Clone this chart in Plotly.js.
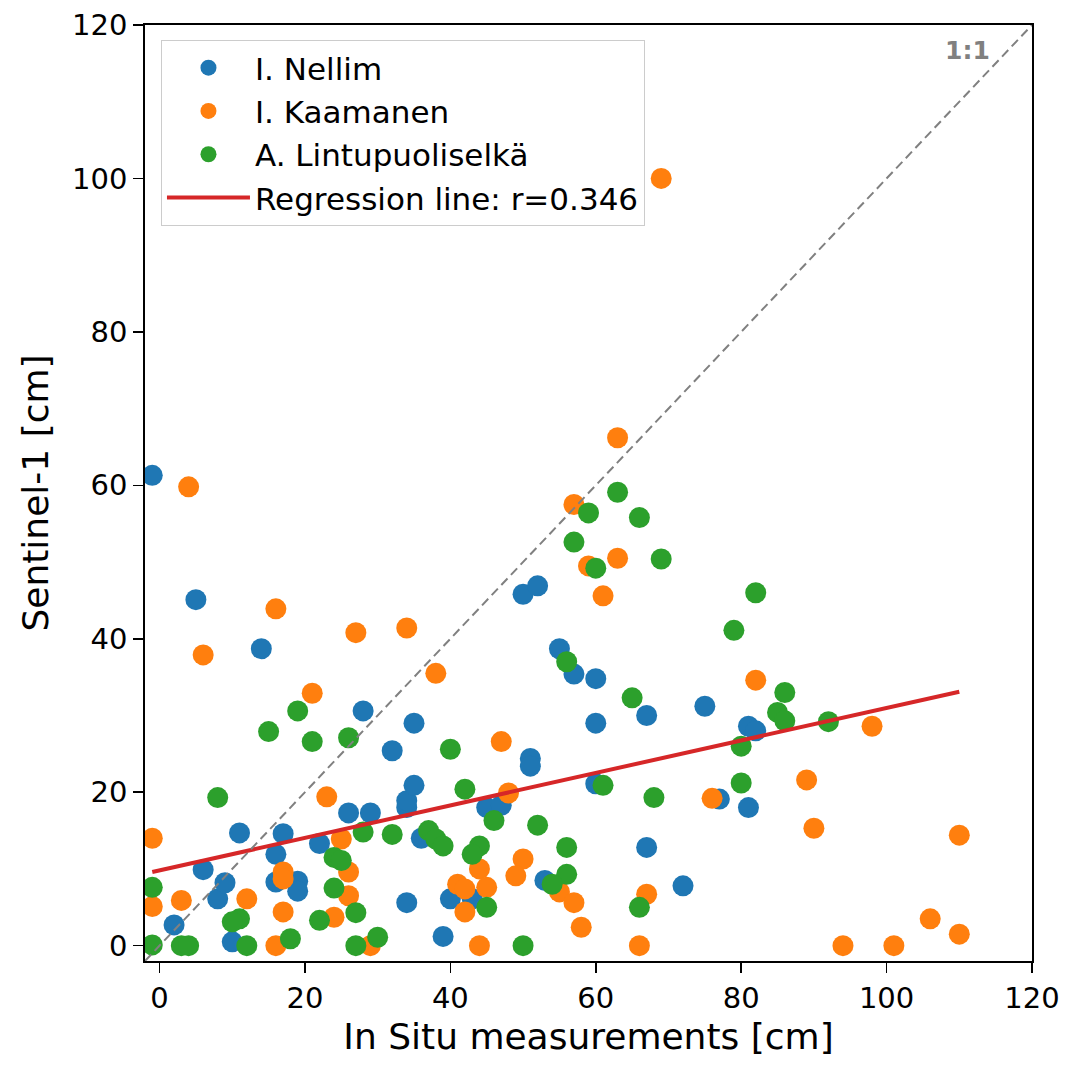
<!DOCTYPE html>
<html>
<head>
<meta charset="utf-8">
<script src="https://cdn.plot.ly/plotly-3.0.1.min.js"></script>
<style>html,body{margin:0;padding:0;background:#fff;}#chart{width:1076px;height:1067px;}</style>
</head>
<body>
<div id="chart"></div>
<script>
// I. Nellim
const nellimX = [-1, 5, 14, 6, 2, 8, 9, 11, 10, 16, 17, 16, 19, 19, 22, 26, 29, 28, 32, 34, 34, 35, 35, 36, 34, 39, 40, 43, 45, 47, 50, 52, 51, 51, 53, 55, 57, 60, 60, 60, 67, 67, 72, 75, 77, 81, 82, 81];
const nellimY = [61.3, 45.1, 38.7, 9.9, 2.7, 6.1, 8.2, 14.7, 0.5, 11.9, 14.6, 8.3, 8.4, 7.1, 13.3, 17.3, 17.3, 30.6, 25.4, 18.0, 18.9, 29.0, 20.9, 14.0, 5.6, 1.2, 6.1, 6.1, 18.0, 18.3, 45.8, 46.9, 24.4, 23.4, 8.5, 38.7, 35.4, 34.8, 29.0, 21.1, 30.0, 12.8, 7.8, 31.2, 19.1, 28.6, 28.0, 18.0];
// I. Kaamanen
const kaamanenX = [4, 16, 6, 27, 34, 38, 21, 23, -1, 25, 26, 17, 17, -1, 3, 12, 26, 17, 24, 16, 29, 63, 57, 59, 63, 61, 69, 47, 48, 50, 44, 49, 41, 42, 45, 55, 57, 42, 58, 67, 44, 66, 76, 82, 98, 89, 90, 110, 106, 110, 94, 101];
const kaamanenY = [59.8, 43.9, 37.9, 40.8, 41.4, 35.5, 32.9, 19.4, 14.0, 13.9, 9.6, 9.6, 8.7, 5.1, 5.9, 6.1, 6.5, 4.4, 3.7, 0, 0, 66.2, 57.5, 49.5, 50.5, 45.6, 100, 26.6, 19.9, 11.3, 10.0, 9.1, 8.0, 7.4, 7.6, 7.0, 5.6, 4.4, 2.4, 6.7, 0, 0, 19.2, 34.6, 28.6, 21.6, 15.3, 14.4, 3.5, 1.5, 0, 0];
// A. Lintupuoliselkä
const lintuX = [19, 15, 21, 26, 8, 28, 32, 37, 38, 39, 24, 25, -1, 24, 11, 10, 22, 27, -1, 3, 4, 12, 18, 27, 30, 63, 59, 66, 57, 60, 69, 56, 65, 40, 61, 68, 42, 46, 52, 44, 43, 56, 56, 54, 45, 66, 50, 82, 79, 86, 85, 86, 92, 80, 80];
const lintuY = [30.6, 27.9, 26.6, 27.1, 19.3, 14.8, 14.5, 15.0, 13.9, 13.0, 11.5, 11.1, 7.6, 7.5, 3.5, 3.1, 3.3, 4.3, 0.1, 0, 0, 0, 0.9, 0, 1.1, 59.1, 56.4, 55.8, 52.6, 49.2, 50.4, 37.0, 32.3, 25.6, 20.9, 19.3, 20.4, 16.3, 15.7, 13.0, 11.9, 12.8, 9.3, 8.0, 5.0, 5.0, 0, 46.0, 41.1, 33.0, 30.4, 29.3, 29.2, 26.0, 21.2];
// Regression line endpoints
const regX = [-1, 110];
const regY = [9.6, 33.1];
const regLabel = 'Regression line: r=0.346';
// 1:1 line
const oneX = [-2, 120];
const oneY = [-2, 120];
const tickVals = [0, 20, 40, 60, 80, 100, 120];

const FONT = 'DejaVu Sans, sans-serif';
const msize = 21;

const traces = [
  {x: nellimX, y: nellimY, type: 'scatter', mode: 'markers', name: 'I. Nellim',
   marker: {color: '#1f77b4', size: msize}},
  {x: kaamanenX, y: kaamanenY, type: 'scatter', mode: 'markers', name: 'I. Kaamanen',
   marker: {color: '#ff7f0e', size: msize}},
  {x: lintuX, y: lintuY, type: 'scatter', mode: 'markers', name: 'A. Lintupuoliselkä',
   marker: {color: '#2ca02c', size: msize}},
  {x: regX, y: regY, type: 'scatter', mode: 'lines', name: regLabel,
   line: {color: '#d62728', width: 4}},
  {x: oneX, y: oneY, type: 'scatter', mode: 'lines', showlegend: false,
   line: {color: '#808080', width: 2, dash: '9px,5px'}}
];

const axisCommon = {
  range: [-2, 120], tickvals: tickVals, ticks: 'outside', ticklen: 10, tickwidth: 1.5,
  tickcolor: '#000', showline: true, linecolor: '#000', linewidth: 1.8, mirror: true,
  showgrid: false, zeroline: false, tickfont: {family: FONT, size: 29, color: '#000'}
};

const layout = {
  width: 1076, height: 1067,
  margin: {l: 145, r: 44, t: 25, b: 106},
  paper_bgcolor: '#fff', plot_bgcolor: '#fff',
  font: {family: FONT, color: '#000'},
  xaxis: Object.assign({}, axisCommon, {
    title: {text: 'In Situ measurements [cm]', font: {family: FONT, size: 36, color: '#000'}, standoff: 10}
  }),
  yaxis: Object.assign({}, axisCommon, {
    title: {text: 'Sentinel-1 [cm]', font: {family: FONT, size: 36, color: '#000'}, standoff: 12}
  }),
  legend: {
    x: 0.018, y: 0.984, xanchor: 'left', yanchor: 'top',
    bgcolor: 'rgba(255,255,255,0.8)', bordercolor: '#cccccc', borderwidth: 1,
    font: {family: FONT, size: 31, color: '#000'}, itemwidth: 83, tracegroupgap: 0
  },
  annotations: [{
    text: '<b>1:1</b>', xref: 'paper', yref: 'paper', x: 0.927, y: 0.973,
    xanchor: 'center', yanchor: 'middle', showarrow: false,
    font: {family: FONT, size: 25, color: '#808080'}
  }],
  showlegend: true
};

Plotly.newPlot('chart', traces, layout, {displayModeBar: false, staticPlot: true});
</script>
</body>
</html>
